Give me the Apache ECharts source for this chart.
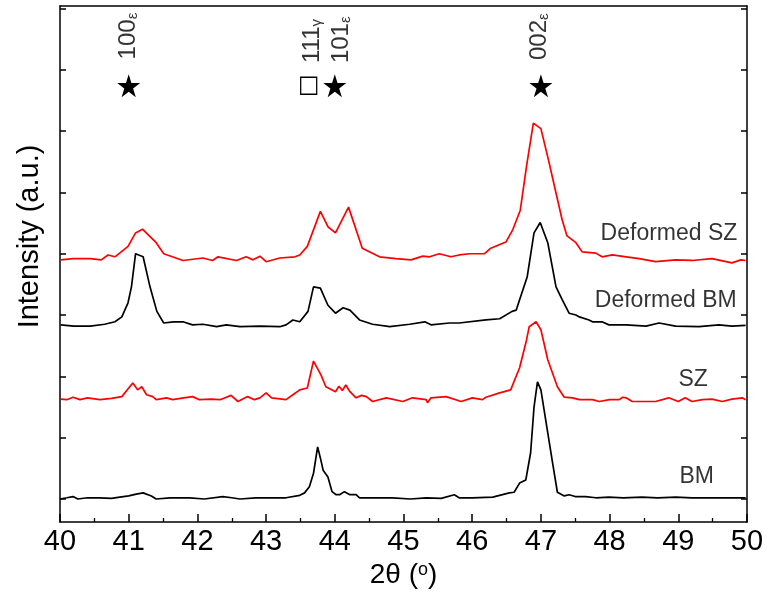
<!DOCTYPE html>
<html><head><meta charset="utf-8">
<script src="https://cdn.jsdelivr.net/npm/echarts@6/dist/echarts.min.js"></script>
<style>html,body{margin:0;padding:0;background:#fff}#c{width:772px;height:592px}</style>
</head><body><div id="c"></div><script>
const xTicks = [40, 41, 42, 43, 44, 45, 46, 47, 48, 49, 50];
const yTicks = [0, 1, 2, 3, 4, 5, 6, 7, 8];

const BM = [[40.00,0.00],[40.10,0.02],[40.19,0.04],[40.26,0.00],[40.40,0.02],[40.58,0.02],[40.75,0.01],[40.87,0.03],[41.00,0.05],[41.11,0.08],[41.21,0.10],[41.33,0.05],[41.40,0.00],[41.60,0.02],[41.89,0.02],[42.10,0.00],[42.37,0.04],[42.50,0.02],[42.62,0.00],[42.85,0.02],[43.10,0.02],[43.29,0.02],[43.49,0.06],[43.56,0.10],[43.63,0.20],[43.69,0.42],[43.75,0.85],[43.79,0.67],[43.83,0.47],[43.90,0.36],[43.96,0.12],[44.02,0.07],[44.07,0.07],[44.14,0.12],[44.22,0.07],[44.31,0.07],[44.36,0.02],[44.60,0.02],[44.84,0.02],[45.10,0.00],[45.33,0.02],[45.55,0.01],[45.74,0.07],[45.81,0.02],[46.00,0.02],[46.30,0.03],[46.54,0.10],[46.61,0.11],[46.69,0.26],[46.78,0.31],[46.85,0.75],[46.90,1.50],[46.95,1.91],[47.00,1.78],[47.10,1.08],[47.17,0.59],[47.24,0.11],[47.34,0.05],[47.41,0.07],[47.50,0.04],[47.65,0.04],[47.80,0.02],[47.99,0.03],[48.20,0.02],[48.47,0.03],[48.70,0.02],[48.96,0.03],[49.20,0.02],[49.45,0.02],[49.70,0.02],[49.98,0.02]];

const SZ = [[40.01,1.63],[40.10,1.62],[40.19,1.66],[40.29,1.62],[40.40,1.65],[40.58,1.62],[40.75,1.64],[40.90,1.67],[41.00,1.81],[41.06,1.89],[41.13,1.78],[41.19,1.83],[41.26,1.70],[41.35,1.67],[41.40,1.62],[41.55,1.65],[41.64,1.62],[41.80,1.65],[41.93,1.67],[42.03,1.62],[42.20,1.63],[42.33,1.62],[42.49,1.69],[42.59,1.59],[42.73,1.67],[42.83,1.62],[42.91,1.65],[43.00,1.73],[43.08,1.65],[43.29,1.62],[43.39,1.70],[43.49,1.78],[43.60,1.81],[43.69,2.25],[43.80,2.02],[43.87,1.83],[44.01,1.75],[44.06,1.84],[44.11,1.77],[44.16,1.86],[44.22,1.75],[44.31,1.65],[44.39,1.69],[44.46,1.67],[44.55,1.59],[44.75,1.65],[44.99,1.59],[45.13,1.65],[45.33,1.62],[45.35,1.57],[45.40,1.65],[45.62,1.67],[45.84,1.59],[46.00,1.65],[46.15,1.62],[46.20,1.66],[46.40,1.73],[46.56,1.78],[46.69,2.14],[46.73,2.32],[46.79,2.59],[46.83,2.81],[46.93,2.89],[47.00,2.76],[47.10,2.27],[47.24,1.83],[47.34,1.66],[47.46,1.65],[47.56,1.62],[47.75,1.62],[47.85,1.59],[48.00,1.62],[48.14,1.62],[48.19,1.66],[48.24,1.65],[48.33,1.59],[48.53,1.59],[48.67,1.59],[48.86,1.65],[49.00,1.59],[49.10,1.65],[49.20,1.59],[49.35,1.62],[49.49,1.63],[49.64,1.59],[49.78,1.63],[49.93,1.65],[49.98,1.62]];

const deformedBM = [[40.01,2.84],[40.20,2.82],[40.44,2.82],[40.65,2.85],[40.80,2.89],[40.90,2.97],[40.99,3.20],[41.04,3.46],[41.10,4.00],[41.21,3.95],[41.31,3.46],[41.41,3.06],[41.51,2.87],[41.65,2.89],[41.79,2.89],[41.93,2.84],[42.08,2.85],[42.28,2.81],[42.42,2.84],[42.62,2.81],[42.91,2.82],[43.20,2.81],[43.29,2.84],[43.39,2.92],[43.49,2.89],[43.61,3.06],[43.69,3.46],[43.79,3.44],[43.90,3.16],[44.01,3.03],[44.12,3.12],[44.22,3.08],[44.36,2.92],[44.55,2.85],[44.80,2.81],[45.09,2.85],[45.31,2.89],[45.40,2.84],[45.67,2.87],[45.81,2.87],[46.20,2.92],[46.40,2.94],[46.58,3.06],[46.64,3.08],[46.69,3.25],[46.80,3.62],[46.90,4.34],[46.99,4.51],[47.10,4.18],[47.22,3.46],[47.31,3.25],[47.36,3.14],[47.41,3.03],[47.51,3.00],[47.56,2.97],[47.70,2.92],[47.75,2.89],[47.89,2.89],[47.99,2.84],[48.24,2.84],[48.53,2.82],[48.72,2.87],[48.96,2.82],[49.30,2.81],[49.59,2.84],[49.78,2.82],[49.98,2.83]];

const deformedSZ = [[40.01,3.90],[40.19,3.92],[40.44,3.92],[40.60,3.90],[40.70,3.98],[40.80,3.95],[40.99,4.12],[41.10,4.34],[41.20,4.40],[41.40,4.18],[41.51,4.00],[41.79,3.89],[42.08,3.93],[42.22,3.89],[42.30,3.95],[42.57,3.89],[42.71,3.95],[42.81,3.90],[42.91,3.96],[43.00,3.87],[43.20,3.93],[43.42,3.95],[43.49,3.98],[43.60,4.12],[43.79,4.69],[43.90,4.44],[44.01,4.34],[44.20,4.76],[44.40,4.09],[44.65,3.95],[44.89,3.92],[45.11,3.90],[45.28,3.96],[45.38,3.95],[45.52,4.00],[45.69,3.95],[45.81,3.98],[45.96,4.00],[46.18,4.00],[46.27,4.09],[46.49,4.19],[46.59,4.39],[46.70,4.71],[46.79,5.42],[46.89,6.13],[47.00,6.04],[47.11,5.53],[47.21,5.04],[47.31,4.55],[47.38,4.29],[47.51,4.18],[47.60,4.03],[47.80,4.01],[47.89,3.95],[48.04,3.98],[48.24,3.95],[48.43,3.92],[48.67,3.87],[48.96,3.90],[49.20,3.89],[49.49,3.92],[49.78,3.85],[49.91,3.90],[49.98,3.89]];

const starPeaks = [[41.0, 6.74], [44.0, 6.74], [47.0, 6.74]];
const boxPeaks = [[43.62, 6.74]];
const peakHkl = ['100', '111', '101', '002'];
const peakPhase = ['ε', 'γ', 'ε', 'ε'];
const peakLabelX = [41.0, 43.67, 44.1, 46.98];
const peakLabelY = [7.55, 7.47, 7.49, 7.54];

const curveNames = ['Deformed SZ', 'Deformed BM', 'SZ', 'BM'];
const curveLabelX = [49.86, 49.85, 49.43, 49.52];
const curveLabelY = [4.32, 3.23, 1.94, 0.36];

const FONT = '"Liberation Sans", Arial, sans-serif';
const chart = echarts.init(document.getElementById('c'), null, {renderer: 'canvas'});

const starPath = 'path://M50,0 L61.2,34.5 L97.6,34.5 L68.2,55.9 L79.4,90.5 L50,69.1 L20.6,90.5 L31.8,55.9 L2.4,34.5 L38.8,34.5 Z';

function lineSeries(name, data, color) {
  return {name, type: 'line', data, symbol: 'none', lineStyle: {color, width: 1.7}, itemStyle: {color}, animation: false, z: 3};
}

chart.setOption({
  animation: false,
  backgroundColor: '#fff',
  grid: {left: 60, right: 25, top: 6, bottom: 70, containLabel: false, outerBoundsMode: 'none'},
  xAxis: [{
    type: 'value', min: xTicks[0], max: xTicks[xTicks.length - 1], interval: 1, position: 'bottom',
    axisLine: {show: true, onZero: false, lineStyle: {color: '#000', width: 1.5}},
    axisTick: {show: true, inside: true, length: 8, lineStyle: {color: '#000', width: 1.5}},
    minorTick: {show: true, splitNumber: 2, length: 4, lineStyle: {color: '#000', width: 1.3}},
    axisLabel: {show: true, fontSize: 29, color: '#000', fontFamily: FONT, margin: 5, showMinLabel: true, showMaxLabel: true, hideOverlap: false},
    splitLine: {show: false}, minorSplitLine: {show: false},
    name: '{a|2θ (}{b|o}{a|)}', nameLocation: 'middle', nameGap: 35,
    nameTextStyle: {fontSize: 28, fontFamily: FONT, color: '#000',
      rich: {a: {fontSize: 28, fontFamily: FONT, color: '#000'}, b: {fontSize: 18, fontFamily: FONT, color: '#000', verticalAlign: 'top'}}}
  }, {
    type: 'value', min: xTicks[0], max: xTicks[xTicks.length - 1], position: 'top',
    axisLine: {show: true, onZero: false, lineStyle: {color: '#000', width: 1.5}},
    axisTick: {show: false}, axisLabel: {show: false}, splitLine: {show: false}
  }],
  yAxis: [{
    type: 'value', min: -0.375, max: 8.04, position: 'left',
    axisLine: {show: true, onZero: false, lineStyle: {color: '#000', width: 1.5}},
    axisTick: {show: true, inside: true, length: 6, customValues: yTicks, lineStyle: {color: '#000', width: 1.5}},
    axisLabel: {show: false}, splitLine: {show: false},
    name: 'Intensity (a.u.)', nameLocation: 'middle', nameGap: 16,
    nameTextStyle: {fontSize: 29, fontFamily: FONT, color: '#000', padding: [0, 0, 0, 55]}
  }, {
    type: 'value', min: -0.375, max: 8.04, position: 'right',
    axisLine: {show: true, onZero: false, lineStyle: {color: '#000', width: 1.5}},
    axisTick: {show: true, inside: true, length: 6, customValues: yTicks, lineStyle: {color: '#000', width: 1.5}},
    axisLabel: {show: false}, splitLine: {show: false}
  }],
  series: [
    lineSeries('BM', BM, '#000000'),
    lineSeries('SZ', SZ, '#ff0000'),
    lineSeries('Deformed BM', deformedBM, '#000000'),
    lineSeries('Deformed SZ', deformedSZ, '#ff0000'),
    {type: 'scatter', data: starPeaks, symbol: starPath, symbolSize: 23, itemStyle: {color: '#000', opacity: 1}, silent: true, z: 5},
    {type: 'scatter', data: boxPeaks, symbol: 'rect', symbolSize: [16, 17], itemStyle: {color: '#fff', borderColor: '#000', borderWidth: 1.3, opacity: 1}, silent: true, z: 5},
    {type: 'scatter', symbolSize: 0, silent: true, z: 6,
      data: peakHkl.map((h, i) => ({value: [peakLabelX[i], peakLabelY[i]], label: {formatter: '{a|' + h + '}{b|' + peakPhase[i] + '}'}})),
      label: {show: true, position: 'inside', rotate: 90, align: 'center', verticalAlign: 'middle',
        rich: {a: {fontSize: 24, fontFamily: FONT, color: '#000'}, b: {fontSize: 15, fontFamily: FONT, color: '#000', verticalAlign: 'bottom', padding: [9, 0, 0, 0]}}}
    },
    {type: 'scatter', symbolSize: 0, silent: true, z: 6,
      data: curveNames.map((n, i) => ({value: [curveLabelX[i], curveLabelY[i]], name: n})),
      label: {show: true, position: 'left', distance: 0, formatter: p => p.name, fontSize: 23, fontFamily: FONT, color: '#000'}
    }
  ]
});
</script></body></html>
